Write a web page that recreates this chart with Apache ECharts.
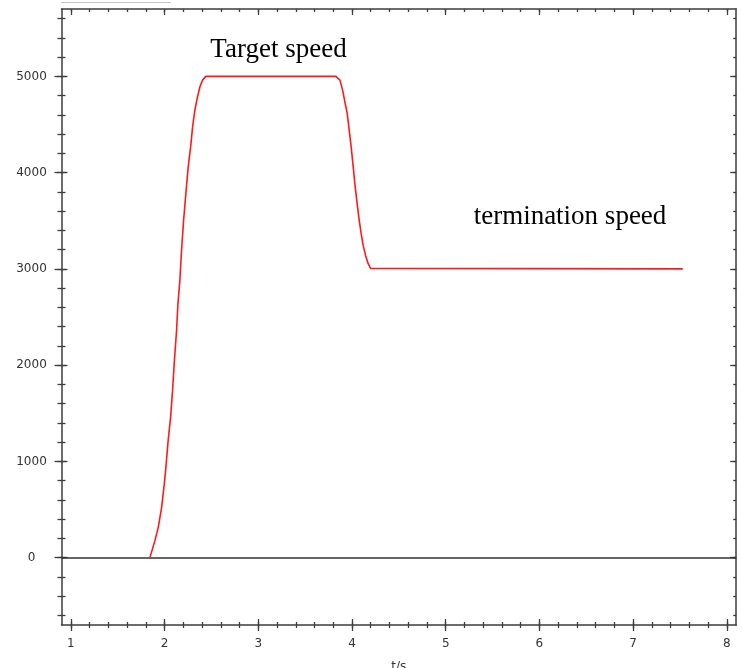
<!DOCTYPE html>
<html><head><meta charset="utf-8">
<script src="https://cdn.jsdelivr.net/npm/echarts@6/dist/echarts.min.js"></script>
<style>html,body{margin:0;padding:0;background:#fff}#c{width:742px;height:668px}</style>
</head><body><div id="c"></div>
<script>
// ---- data ----
const timeS = [1.843, 1.896, 1.932, 1.968, 1.993, 2.014, 2.038, 2.064, 2.085, 2.107, 2.128, 2.142, 2.163, 2.181, 2.203, 2.227, 2.252, 2.278, 2.299, 2.323, 2.348, 2.377, 2.406, 2.44,
               3.828, 3.871, 3.900, 3.924, 3.949, 3.970, 3.991, 4.013, 4.034, 4.055, 4.077, 4.098, 4.119, 4.145, 4.173, 4.198, 7.53];
const speed = [0, 174, 312, 520, 729, 937, 1215, 1457, 1735, 2082, 2360, 2630, 2881, 3192, 3505, 3782, 4059, 4267, 4475, 4649, 4771, 4892, 4961, 5000,
               5000, 4961, 4857, 4736, 4615, 4441, 4267, 4059, 3851, 3678, 3504, 3366, 3244, 3140, 3054, 3005, 3000];
const xTickValues = [1, 2, 3, 4, 5, 6, 7, 8];
const xTickLabels = ['1', '2', '3', '4', '5', '6', '7', '8'];
const yTickValues = [0, 1000, 2000, 3000, 4000, 5000];
const yTickLabels = ['0', '1000', '2000', '3000', '4000', '5000'];
const annotations = ['Target speed', 'termination speed'];
const xAxisName = 't/s';

const xMin = 0.9, xMax = 8.1, yMin = -700, yMax = 5700;
const xMinorStep = 0.2, yMinorStep = 200;

// minor tick positions
const xMinor = [];
for (let v = 1; v <= 8.0001; v += xMinorStep) xMinor.push(Math.round(v * 10) / 10);
const yMinor = [];
for (let v = -600; v <= 5600; v += yMinorStep) yMinor.push(v);

const axisColor = '#3c3c3c';
const labelStyle = { fontFamily: 'DejaVu Sans', fontSize: 12, color: '#333' };

function mkX(pos, ticks, len, inside, showLine, showLabel, name) {
  return {
    type: 'value', min: xMin, max: xMax, position: pos,
    name: name || '', nameLocation: 'middle', nameGap: 36,
    nameTextStyle: { fontFamily: 'DejaVu Sans', fontSize: 12, color: '#333' },
    axisLine: { show: showLine, onZero: false, lineStyle: { color: axisColor, width: 1.5 } },
    axisTick: { show: true, inside: inside, length: len, customValues: ticks, lineStyle: { color: axisColor, width: 1.3 } },
    axisLabel: Object.assign({ show: showLabel, margin: 13, customValues: xTickValues,
      formatter: v => { const i = xTickValues.indexOf(v); return i >= 0 ? xTickLabels[i] : ''; } }, labelStyle),
    splitLine: { show: false }
  };
}
function mkY(pos, ticks, len, inside, showLine, showLabel) {
  return {
    type: 'value', min: yMin, max: yMax, position: pos,
    axisLine: { show: showLine, onZero: false, lineStyle: { color: axisColor, width: 1.5 } },
    axisTick: { show: true, inside: inside, length: len, customValues: ticks, lineStyle: { color: axisColor, width: 1.3 } },
    axisLabel: Object.assign({ show: showLabel, margin: 30, align: 'center', customValues: yTickValues,
      formatter: v => { const i = yTickValues.indexOf(v); return i >= 0 ? yTickLabels[i] : ''; } }, labelStyle),
    splitLine: { show: false }
  };
}

const chart = echarts.init(document.getElementById('c'), null, { renderer: 'canvas' });
chart.setOption({
  animation: false,
  backgroundColor: '#fff',
  grid: { left: 61.5, right: 5.8, top: 9, bottom: 43, containLabel: false, outerBoundsMode: 'none' },
  xAxis: [
    mkX('bottom', xTickValues, 6, false, true, true, xAxisName),
    mkX('bottom', xTickValues, 6, true, false, false),
    mkX('bottom', xMinor, 3, false, false, false),
    mkX('bottom', xMinor, 3, true, false, false),
    mkX('top', xTickValues, 6, true, true, false),
    mkX('top', xMinor, 3, true, false, false)
  ],
  yAxis: [
    mkY('left', yTickValues, 7, false, true, true),
    mkY('left', yTickValues, 6, true, false, false),
    mkY('left', yMinor, 4, false, false, false),
    mkY('left', yMinor, 4, true, false, false),
    mkY('right', yTickValues, 6, true, true, false),
    mkY('right', yMinor, 3, true, false, false)
  ],
  series: [{
    type: 'line',
    xAxisIndex: 0, yAxisIndex: 0,
    data: timeS.map((t, i) => [t, speed[i]]),
    showSymbol: false, symbol: 'none',
    lineStyle: { color: '#ff1a1a', width: 1.6 },
    z: 3,
    markLine: {
      silent: true, symbol: ['none', 'none'], label: { show: false },
      lineStyle: { color: '#333', width: 1.5, type: 'solid' },
      data: [{ yAxis: 0 }],
      z: 2
    }
  }],
  graphic: [
    { type: 'line', shape: { x1: 61, y1: 2.5, x2: 171, y2: 2.5 }, style: { stroke: '#c4c4c4', lineWidth: 1 } },
    { type: 'text', x: 278.5, y: 50, style: { text: annotations[0], font: '27px "Liberation Serif"', fill: '#000',
      align: 'center', verticalAlign: 'middle', textAlign: 'center', textVerticalAlign: 'middle' } },
    { type: 'text', x: 570, y: 217, style: { text: annotations[1], font: '27px "Liberation Serif"', fill: '#000',
      align: 'center', verticalAlign: 'middle', textAlign: 'center', textVerticalAlign: 'middle' } }
  ]
});
</script>
</body></html>
